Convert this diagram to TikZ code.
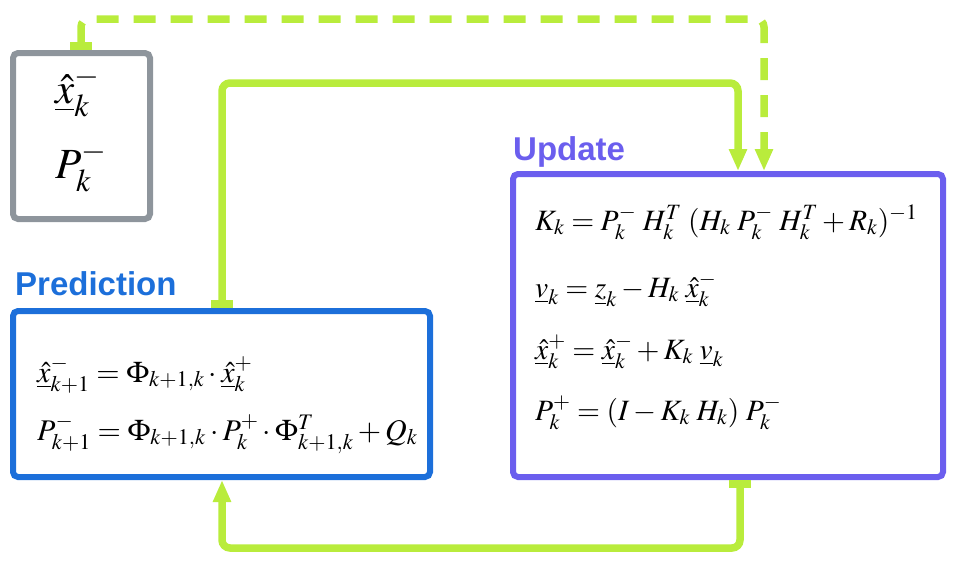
\documentclass[tikz,border=0pt]{standalone}
\usepackage{mathptmx}
\usepackage[no-math]{fontspec}
\setmainfont{Liberation Serif}
\newfontfamily\headfont{Liberation Sans}
\usetikzlibrary{arrows.meta}
\definecolor{lime}{HTML}{B9EC3C}
\definecolor{memgray}{HTML}{8E959C}
\definecolor{predblue}{HTML}{1C6FDA}
\definecolor{updpurple}{HTML}{6B5EEE}
\newcommand\gapf{\mkern4mu}
\tikzset{
  mybar/.tip={Rectangle[length=8pt,width=22pt]},
  myhead/.tip={Triangle[length=22pt,width=17pt]},
  box/.style={draw, line width=6pt, rounded corners=5pt, inner sep=0pt},
  flow/.style={draw=lime, line width=7.5pt, rounded corners=8pt},
  dashflow/.style={flow, dash pattern=on 22pt off 15pt},
  title/.style={anchor=base west, inner sep=0pt, font=\headfont\bfseries\fontsize{33}{38}\selectfont},
  eqU/.style={anchor=base west, inner sep=0pt, font=\fontsize{29.5}{34}\selectfont},
  eqP/.style={anchor=base west, inner sep=0pt, font=\fontsize{30}{36}\selectfont},
  eqM/.style={anchor=base west, inner sep=0pt, font=\fontsize{43}{48}\selectfont}
}
\begin{document}
\begin{tikzpicture}[x=1pt,y=-1pt]
\useasboundingbox (0,0) rectangle (955,563);
% boxes
\node[box, draw=memgray, minimum width=137pt, minimum height=166pt] (mem) at (81.5,136) {};
\node[box, draw=predblue, minimum width=417pt, minimum height=166pt] (pred) at (221.5,394) {};
\node[box, draw=updpurple, minimum width=430pt, minimum height=303pt] (upd) at (728,325.5) {};
% titles
\node[title, text=predblue] (predtitle) at (15,295) {Prediction};
\node[title, text=updpurple] (updtitle) at (513,160) {Update};
% memory contents
\node[eqM] (m1) at (55,103) {$\underline{\hat{x}}_k^-$};
\node[eqM] (m2) at (55,178) {$P_k^-$};
% prediction equations
\node[eqP] (p1) at (37,382) {$\underline{\hat{x}}_{k+1}^- = \Phi_{k+1,k}\cdot\underline{\hat{x}}_k^+$};
\node[eqP] (p2) at (37,440) {$P_{k+1}^- = \Phi_{k+1,k}\cdot P_k^+\cdot\Phi_{k+1,k}^T + Q_k$};
% update equations
\node[eqU] (u1) at (535,230) {$K_k = P_k^-\gapf H_k^T\gapf(H_k\gapf P_k^-\gapf H_k^T + R_k)^{-1}$};
\node[eqU] (u2) at (535,297) {$\underline{v}_k = \underline{z}_k - H_k\gapf\underline{\hat{x}}_k^-$};
\node[eqU] (u3) at (535,359) {$\underline{\hat{x}}_k^+ = \underline{\hat{x}}_k^- + K_k\gapf\underline{v}_k$};
\node[eqU] (u4) at (535,420) {$P_k^+ = (I - K_k\gapf H_k)\gapf P_k^-$};
% connectors
\coordinate (d1) at (81,19);
\coordinate (d2) at (764,19);
\draw[dashflow, mybar-myhead] (mem.north -| d1) -- (d1) -- (d2) -- (upd.north -| d2);
\coordinate (s1) at (222,83);
\coordinate (s2) at (738,83);
\draw[flow, mybar-myhead] (pred.north -| s1) -- (s1) -- (s2) -- (upd.north -| s2);
\coordinate (b1) at (740,548);
\coordinate (b2) at (222,548);
\draw[flow, mybar-myhead] (upd.south -| b1) -- (b1) -- (b2) -- (pred.south -| b2);
\end{tikzpicture}
\end{document}
